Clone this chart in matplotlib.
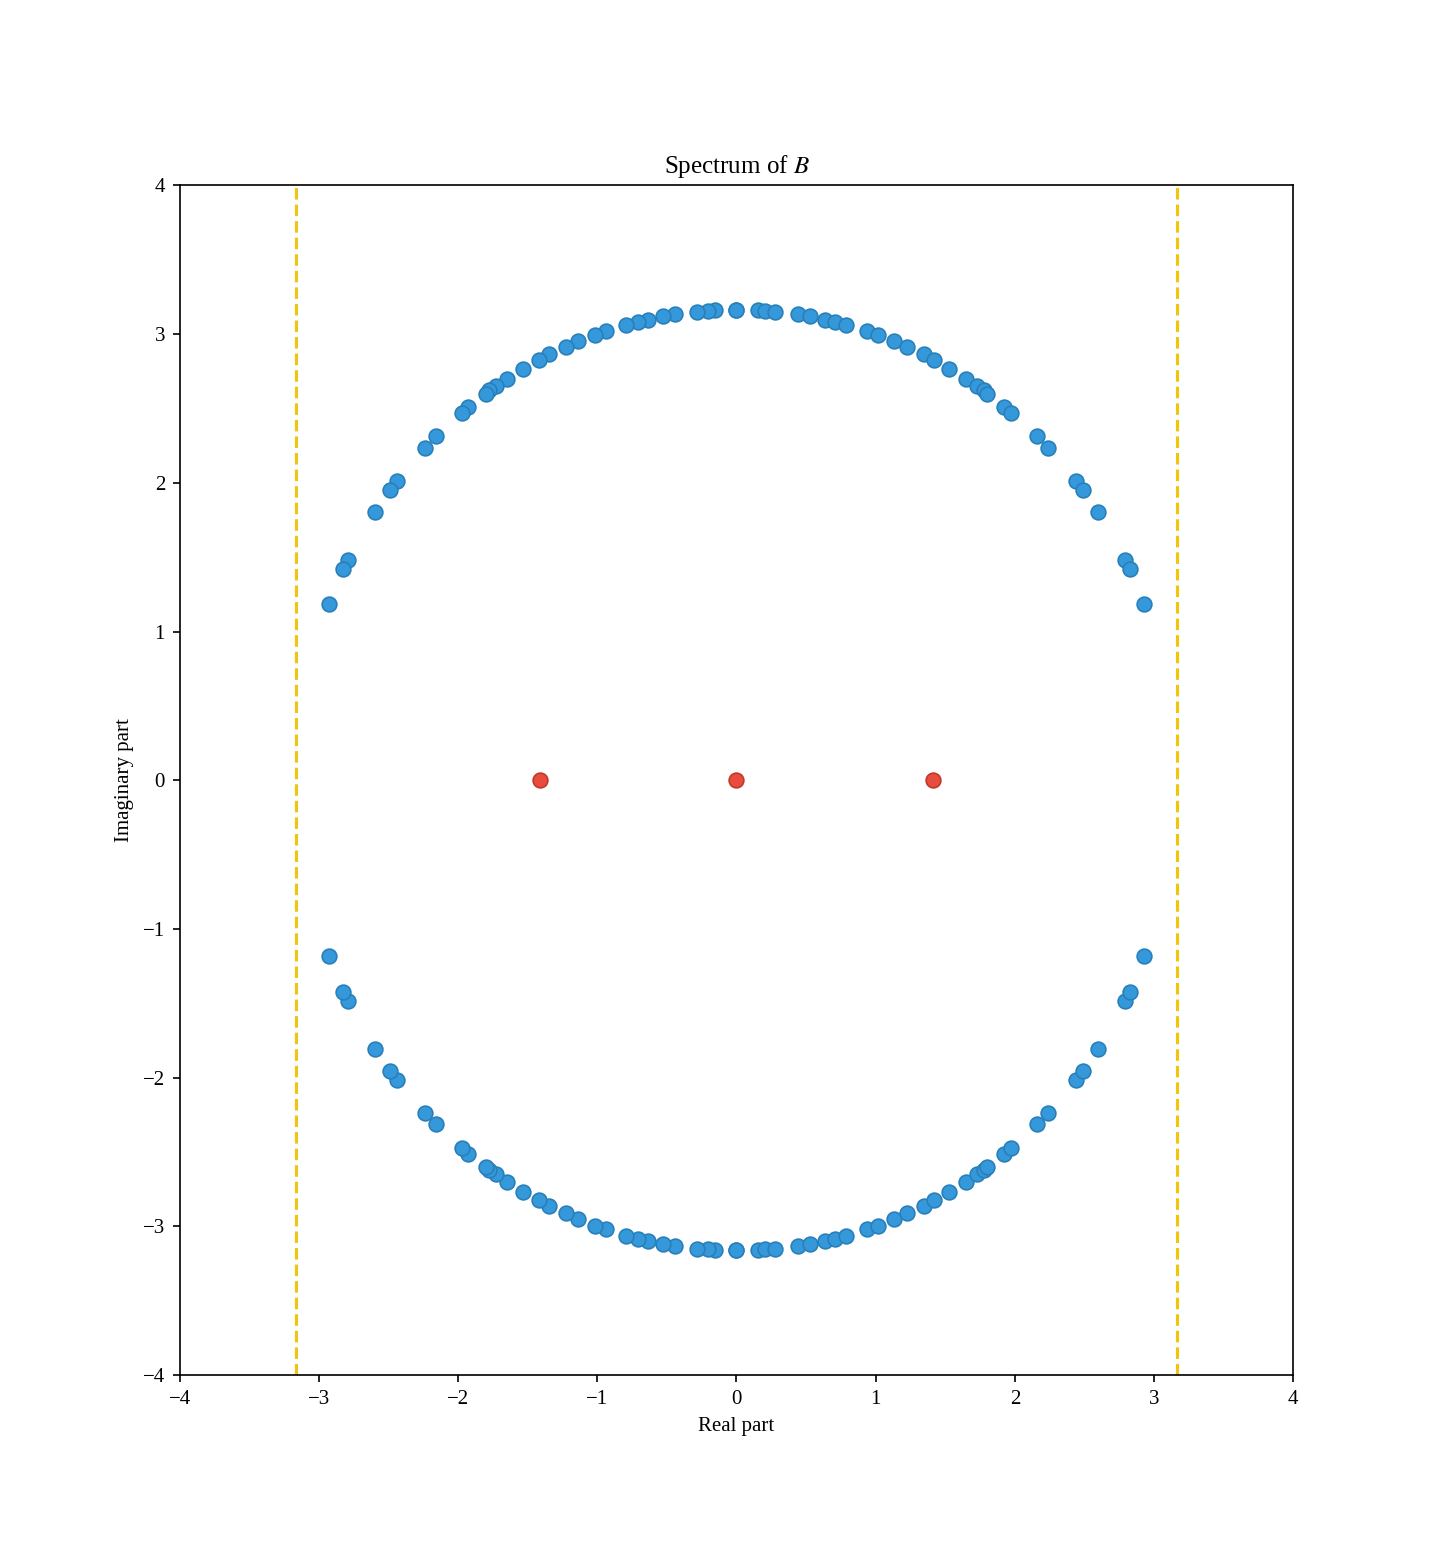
import numpy as np
import matplotlib
matplotlib.use('Agg')
import matplotlib.pyplot as plt

plt.rcParams.update({
    'font.family': 'serif',
    'font.serif': ['Liberation Serif', 'DejaVu Serif'],
    'mathtext.fontset': 'stix',
    'font.size': 10,
})

# eigenvalues in the first quadrant; spectrum is
# symmetric under x -> -x and conjugation
quad_re = [0.0, 0.153, 0.208, 0.280, 0.440, 0.531, 0.639, 0.706, 0.790, 0.939,
           1.015, 1.135, 1.228, 1.345, 1.422, 1.530, 1.647, 1.729, 1.776, 1.801,
           1.925, 1.973, 2.157, 2.236, 2.437, 2.487, 2.595, 2.791, 2.824, 2.930]
quad_im = [3.159, 3.159, 3.154, 3.150, 3.132, 3.119, 3.096, 3.083, 3.063, 3.020,
           2.995, 2.952, 2.912, 2.863, 2.823, 2.767, 2.701, 2.648, 2.621, 2.598,
           2.513, 2.471, 2.313, 2.235, 2.015, 1.953, 1.805, 1.484, 1.421, 1.183]

# real eigenvalues
real_re = [-1.4142, 0.0, 1.4142]
real_im = [0.0, 0.0, 0.0]

bound = 3.1623  # sqrt(10)

qr = np.array(quad_re)
qi = np.array(quad_im)
cx_re = np.concatenate([qr, -qr, qr, -qr])
cx_im = np.concatenate([qi, qi, -qi, -qi])

fig, ax = plt.subplots(figsize=(9.58, 10.3), dpi=150)
ax.scatter(cx_re, cx_im, s=50, c='#3498db', edgecolors='#2980b9',
           linewidth=0.8, zorder=3)
ax.scatter(real_re, real_im, s=50, c='#e74c3c', edgecolors='#c0392b',
           linewidth=0.8, zorder=4)
ax.axvline(bound, color='#f1c40f', linestyle='--', linewidth=1.5)
ax.axvline(-bound, color='#f1c40f', linestyle='--', linewidth=1.5)

ax.set_xlim(-4, 4)
ax.set_ylim(-4, 4)
ax.set_xlabel('Real part')
ax.set_ylabel('Imaginary part')
ax.set_title('Spectrum of $B$', fontsize=12)

plt.savefig('out.png', dpi=150)
